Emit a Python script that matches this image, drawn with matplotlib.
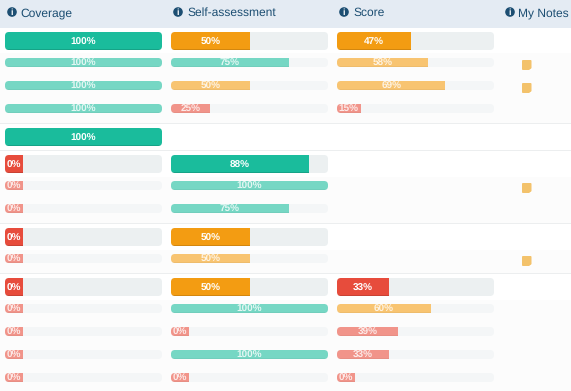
import matplotlib
matplotlib.use('Agg')
import matplotlib.pyplot as plt
from matplotlib.patches import Circle, FancyBboxPatch, Polygon, Rectangle

plt.rcParams['font.family'] = ['Liberation Sans', 'DejaVu Sans']
plt.rcParams['text.hinting'] = 'none'
plt.rcParams['text.hinting_factor'] = 1

headers = ['Coverage', 'Self-assessment', 'Score', 'My Notes']

# one entry per row, None = nothing in that cell
coverage = [100, 100, 100, 100, 100, 0, 0, 0, 0, 0, 0, 0, 0, 0, 0]
self_assessment = [50, 75, 50, 25, None, 88, 100, 75, 50, 50, 50, 100, 0, 100, 0]
score = [47, 58, 69, 15, None, None, None, None, None, None, 33, 60, 39, 33, 0]
has_note = [0, 1, 1, 0, 0, 0, 1, 0, 0, 1, 0, 0, 0, 0, 0]
is_main = [1, 0, 0, 0, 1, 1, 0, 0, 1, 0, 1, 0, 0, 0, 0]

row_top = [32, 58, 81, 104, 128, 155, 181, 204, 228, 254, 278, 304, 327, 350, 373]

col_left = [5, 171, 337]
col_width = 157
min_width = 18

header_x = [7, 173, 339, 505]
header_text_x = [20, 187, 353, 518]
separators = [123, 150, 223, 273]
shaded_bands = [(53, 123), (177, 223), (250, 273), (300, 391)]

BG_HEADER = '#e4ebf3'
NAVY = '#1c4e72'


def pick_colors(v, main):
    if v >= 70:
        return '#1abc9c' if main else '#76d7c4'
    if v >= 40:
        return '#f39c12' if main else '#f8c471'
    return '#e74c3c' if main else '#f1948a'


def draw_bar(ax, x, y, v, main):
    h = 18 if main else 9
    track = FancyBboxPatch((x, y), col_width, h,
                           boxstyle='round,pad=0,rounding_size=4',
                           fc='#ecf0f1' if main else '#f4f6f7', ec='none', zorder=2)
    ax.add_patch(track)
    w = max(col_width * v / 100, min_width)
    color = pick_colors(v, main)
    fill = Rectangle((x, y), w, h, fc=color, ec='none', zorder=3)
    ax.add_patch(fill)
    fill.set_clip_path(track)
    # darker line along the bottom of the bar
    edge = Rectangle((x, y + h - 0.8), w, 0.8, fc='black',
                     alpha=0.13 if main else 0.04, ec='none', zorder=4)
    ax.add_patch(edge)
    edge.set_clip_path(track)
    ty = y + (13 if main else 8)
    ax.text(x + w / 2, ty, f'{v}%', color='white', alpha=1 if main else 0.8,
            fontsize=7, fontweight='bold', ha='center', va='baseline', zorder=5)


fig = plt.figure(figsize=(5.71, 3.91), dpi=100)
ax = fig.add_axes([0, 0, 1, 1])
ax.set_xlim(0, 571)
ax.set_ylim(391, 0)
ax.axis('off')

ax.add_patch(Rectangle((0, 0), 571, 27.5, fc=BG_HEADER, ec='none'))
for top, bottom in shaded_bands:
    ax.add_patch(Rectangle((0, top), 571, bottom - top, fc='#fcfcfc', ec='none'))
for y in separators:
    ax.add_patch(Rectangle((0, y - 0.5), 571, 1, fc='#eceeef', ec='none'))

for name, ix, tx in zip(headers, header_x, header_text_x):
    ax.add_patch(Circle((ix + 5, 12), 4.8, fc=NAVY, ec='none'))
    ax.text(ix + 5, 15.3, 'i', color='white', fontsize=6.5, fontweight='bold',
            ha='center', va='baseline')
    ax.text(tx, 16.3, name, color=NAVY, fontsize=8.5, ha='left', va='baseline')

for col, values in enumerate([coverage, self_assessment, score]):
    for v, y, main in zip(values, row_top, is_main):
        if v is not None:
            draw_bar(ax, col_left[col], y, v, main)

for flag, y in zip(has_note, row_top):
    if flag:
        ny = y + 2
        ax.add_patch(FancyBboxPatch((522, ny), 9.5, 10,
                                    boxstyle='round,pad=0,rounding_size=1',
                                    fc='#f3c26b', ec='none', zorder=2))
        ax.add_patch(Polygon([(531.6, ny + 7.5), (531.6, ny + 10.1), (529, ny + 10.1)],
                             fc='white', ec='none', zorder=3))

fig.savefig('out.png', dpi=100, facecolor='white')
